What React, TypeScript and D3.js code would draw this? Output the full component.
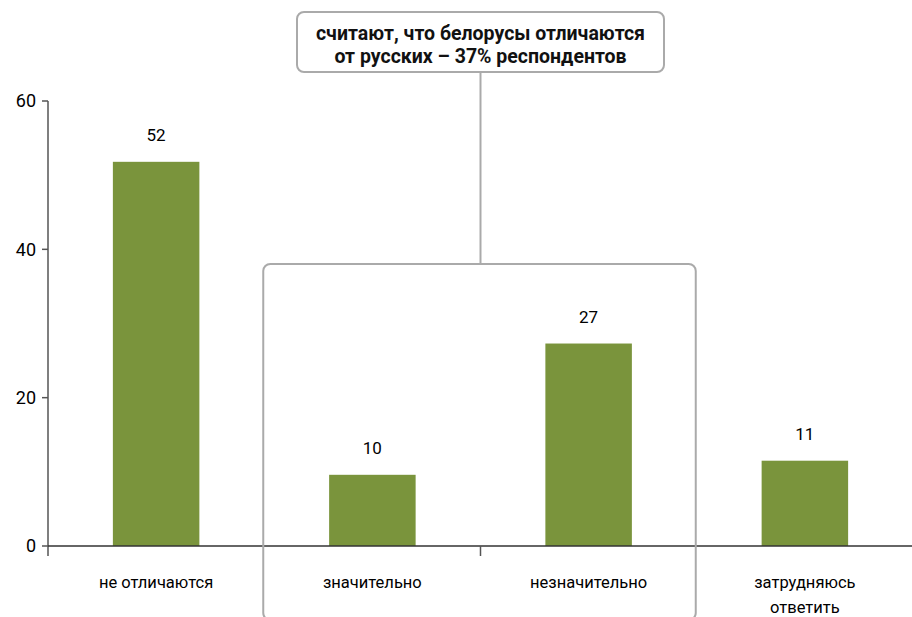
import React from "react";
import * as d3 from "d3";

const categories = ["не отличаются", "значительно", "незначительно", "затрудняюсь|ответить"];
const values = [51.8, 9.6, 27.3, 11.5];
const valueLabels = ["52", "10", "27", "11"];
const yTicks = [0, 20, 40, 60];
const calloutLines = ["считают, что белорусы отличаются", "от русских – 37% респондентов"];

const W = 912, H = 617;
const FONT = "Roboto, 'Noto Sans', sans-serif";

export default function App() {
  const x = d3.scaleBand<string>().domain(categories).range([48, 913]).paddingInner(0.6).paddingOuter(0.3);
  const band = d3.scaleBand<string>().domain(categories).range([48, 913]);
  const y = d3.scaleLinear().domain([0, 60]).range([546, 101]);
  const bx0 = band("значительно")! - 1;
  const bx1 = band("незначительно")! + band.bandwidth() - 1;
  const midX = band("незначительно")!;
  return (
    <svg width={W} height={H} style={{ position: "absolute", left: 0, top: 0 }} fontFamily={FONT}>
      {/* y axis */}
      <line x1={48} x2={48} y1={y(60)} y2={556} stroke="#555" strokeWidth={1.5} />
      {yTicks.map((t) => (
        <g key={t}>
          <line x1={42} x2={48} y1={y(t)} y2={y(t)} stroke="#555" strokeWidth={1.5} />
          <text x={36} y={y(t)} dy="0.35em" textAnchor="end" fontSize={18} fill="#000">{t}</text>
        </g>
      ))}
      {/* bars */}
      {categories.map((c, i) => (
        <g key={c}>
          <rect x={x(c)} y={y(values[i])} width={x.bandwidth()} height={y(0) - y(values[i])} fill="#7a943c" />
          <text x={x(c)! + x.bandwidth() / 2} y={y(values[i]) - 21} textAnchor="middle" fontSize={17} fill="#000">{valueLabels[i]}</text>
          {c.split("|").map((l, j) => (
            <text key={j} x={band(c)! + band.bandwidth() / 2} y={588 + j * 25} textAnchor="middle" fontSize={16.5} fill="#000">{l}</text>
          ))}
        </g>
      ))}
      {/* x axis */}
      <line x1={48} x2={912} y1={546} y2={546} stroke="#333" strokeWidth={1.5} />
      <line x1={midX} x2={midX} y1={546} y2={556} stroke="#555" strokeWidth={1.5} />
      {/* group bracket box */}
      <rect x={bx0} y={264} width={bx1 - bx0} height={356} rx={7} fill="none" stroke="#aaa" strokeWidth={2} />
      <line x1={midX} x2={midX} y1={72} y2={264} stroke="#aaa" strokeWidth={2} />
      <rect x={297} y={12} width={367} height={60} rx={7} fill="#fff" stroke="#aaa" strokeWidth={2} />
      {calloutLines.map((l, i) => (
        <text key={i} x={midX} y={40 + i * 23} textAnchor="middle" fontSize={19.5} fontWeight="bold" fill="#111">{l}</text>
      ))}
    </svg>
  );
}
